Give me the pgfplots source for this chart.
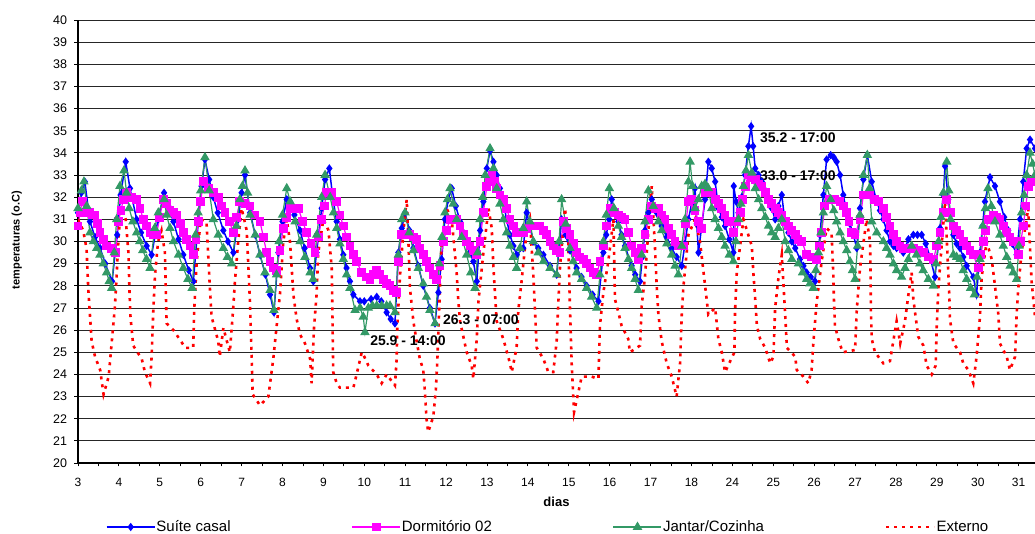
\documentclass[border=0pt]{standalone}
\usepackage{fontspec}
\setmainfont{Liberation Sans}
\usepackage{pgfplots}
\pgfplotsset{compat=1.18}
\definecolor{suite}{RGB}{0,0,255}
\definecolor{dorm}{RGB}{255,0,255}
\definecolor{jantar}{RGB}{51,153,102}
\definecolor{externo}{RGB}{255,0,0}

\begin{document}
\begin{tikzpicture}
\useasboundingbox (-78pt,-71pt) rectangle (957pt,463pt);
\begin{axis}[
  at={(0pt,0pt)}, anchor=south west,
  scale only axis, width=957pt, height=443pt,
  xmin=0, xmax=561.6, ymin=20, ymax=40,
  axis x line*=bottom, axis y line*=left,
  axis line style={black, line width=1.2pt},
  ytick={20,21,...,40},
  xtick={0,24,...,552},
  xticklabels={3,4,5,6,7,8,9,10,11,12,13,14,15,16,17,18,24,25,26,27,28,29,30,31},
  minor xtick={12,36,...,564},
  tick align=outside,
  major tick length=3.5pt, minor tick length=3.5pt,
  tick style={black, line width=0.8pt},
  ymajorgrids, grid style={black!85, line width=0.8pt},
  /pgf/number format/assume math mode=true,
  yticklabel style={font=\fontsize{12.5}{14}\selectfont, xshift=-4pt},
  xticklabel style={font=\fontsize{12}{13}\selectfont, yshift=-8pt},
  xlabel={dias},
  every axis x label/.style={at={(axis description cs:0.5,0)}, anchor=center, yshift=-39pt, font=\bfseries\fontsize{13}{15}\selectfont},
  ylabel={temperaturas (o.C)},
  every axis y label/.style={at={(axis description cs:-0.064,0.503)}, anchor=center, rotate=90, font=\bfseries\fontsize{11}{12}\selectfont},
  legend style={draw=none, fill=none, at={(axis description cs:0.029,-0.1445)}, anchor=west,
    legend columns=4, inner xsep=0pt, font=\fontsize{15}{17}\selectfont,
    /tikz/every even column/.append style={column sep=120pt}, nodes={inner xsep=1pt}},
  legend cell align=left,
  legend image code/.code={\draw[mark repeat=2,mark phase=2] plot coordinates {(0pt,0pt) (24pt,0pt) (48pt,0pt)};},
]
% Suite casal
\addplot[suite, line width=1.5pt, mark=diamond*, mark size=3pt, mark options={solid, fill=suite, draw=suite}] coordinates {
(0,31.3) (2,32.2) (4,32.7) (7,30.9) (10,30.2) (13,29.7) (16,29.0) (20,28.2) (23,30.3) (25,32.1) (28,33.6) (30.5,32.4) (34.4,31.0) (37,30.4) (40.3,29.8) (43.2,29.4) (47,31.0) (50.5,32.2) (53,31.6) (56,30.9) (59,30.1) (61.8,29.4) (65,28.7) (67.7,28.2) (70.6,30.9) (72.5,32.5) (74.5,33.7) (77,32.8) (79.4,32.0) (82,31.3) (85.3,30.5) (88,30.0) (91.2,29.5) (94,31.0) (96,32.2) (98,33.0) (101,31.3) (104,30.3) (106.8,29.4) (110,28.5) (112.7,27.6) (115,26.8) (117.6,29.5) (120,30.9) (122.5,31.9) (124.4,31.8) (127,31.2) (130.3,30.5) (133,29.7) (136.2,28.8) (138.1,28.2)
(140,29.5) (143,31.5) (145,32.8) (147.5,33.3) (149.5,32.0) (151.8,30.9) (153.7,30.1) (155.7,29.4) (157.6,28.8) (159.6,28.2) (161.6,27.6) (165.5,27.3) (168,27.3) (172,27.4) (175.3,27.5) (178,27.3) (181.1,26.8) (183.5,26.5) (186,26.3) (188,29.5) (190,30.6) (191.9,31.3) (194.5,30.5) (196.8,29.7) (199.7,28.9) (202.6,28.0) (206.5,27.0) (209.5,26.3) (211.5,27.7) (213.4,29.2) (215.3,31.0) (217.3,31.9) (219.3,32.4) (221.7,31.6) (224.2,30.9) (226.2,30.4) (228.1,30.0) (230,29.5) (232,29.1) (234,28.2) (236,30.5) (237.9,31.8) (239.9,33.3) (241.8,34.1) (243.8,33.6) (245.7,33.0) (247.6,32.4) (249.6,31.8) (251.5,31.0) (253.5,30.3) (255.5,29.8) (257.4,29.4) (261.3,29.7) (263.3,31.3) (265.2,30.7) (267.2,30.0) (270.1,29.7) (273.1,29.4) (277,28.9) (280.9,28.5)
(283.8,31.0) (286.2,30.3) (288.7,29.6) (292.6,28.8) (295.5,28.4) (298.5,28.0) (302,27.6) (305.4,27.3) (308.3,29.5) (310,30.3) (311.8,31.0) (313.2,31.9) (315,31.4) (317.1,30.9) (319,30.3) (321,29.8) (324.9,28.9) (327,28.5) (329.8,28.2) (331.2,29.3) (332.7,30.5) (334.7,31.3) (336.7,31.9) (339.6,31.3) (342.5,30.7) (345.5,30.2) (348.4,29.7) (351.3,29.3) (354.3,28.9) (356.2,29.9) (358.2,31.0) (360.1,31.7) (362.1,32.4) (363.1,30.8) (364.1,29.5) (366,30.7) (368,31.9) (369.9,33.6) (371.9,33.3) (373.9,32.7) (375.8,31.5) (377.8,31.1) (379.7,30.7) (382.2,30.1) (384.6,29.5) (384.8,32.5) (386.2,31.8) (387.6,31.3) (389.5,32.0) (391.5,33.0) (393.4,34.3) (395,35.2) (396.2,34.3) (397.4,33.3) (399.4,33.0) (401.3,32.7) (403.3,32.3) (405.2,31.9) (407.1,31.5) (409.1,31.0) (411,31.6) (413,32.1) (415,30.8) (416.9,30.4) (418.9,30.0) (420.9,29.7)
(423.7,29.2) (425.7,28.9) (427.6,28.6) (430,28.4) (432.5,28.2) (435.4,30.3) (437.4,32.1) (439.3,33.7) (441.7,33.9) (443.5,33.8) (445.2,33.6) (447.2,33.0) (449.1,32.1) (451.1,31.3) (453,30.8) (455,30.3) (457,29.7) (458.9,31.5) (460.9,32.8) (463.2,33.9) (465.8,32.7) (468.7,31.8) (470.6,31.4) (472.6,31.0) (474.5,30.5) (476.5,30.0) (478.5,29.8) (480.4,29.7) (484.3,29.5) (487.3,30.1) (490.2,30.3) (492.6,30.3) (495.1,30.3) (497.5,29.9) (500,29.3) (502.9,28.4) (505.9,30.6) (507.8,32.1) (508.8,33.4) (510.7,31.9) (513.7,30.3) (515.6,29.9) (517.6,29.7) (519.5,29.3) (521.5,28.9) (525.4,28.4) (527.3,27.6) (529.3,29.5) (530.8,30.7) (532.2,31.8) (535.2,32.9) (538.1,32.5) (541,31.8) (543.5,31.1) (545.9,30.5) (548.3,29.9) (550.8,29.4) (552.8,31.0) (554.7,32.7) (556.7,34.2) (558.7,34.6) (561.6,34.2)
};
\addlegendentry{Suíte casal}
% Dormitorio 02
\addplot[dorm, line width=1.2pt, mark=square*, mark size=3.8pt, mark options={solid, fill=dorm, draw=dorm}] coordinates {
(0,30.7) (1.2,31.3) (2.5,31.8) (4,31.3) (5.5,31.3) (7,31.3) (8.5,31.2) (10,31.2) (11.5,30.8) (12.9,30.4) (14.9,30.1) (16.8,29.8) (19.8,29.7) (22,29.5) (23.7,30.9) (25.2,31.4) (26.6,31.9) (28.5,32.2) (31.5,32.0) (34.4,31.9) (36.4,31.5) (38.3,31.0) (40.3,30.7) (42.3,30.4) (44.2,30.3) (46,30.3) (48,31.1) (50,31.9) (52,31.7) (54,31.4) (56,31.3) (58,31.2) (60,30.8) (61.8,30.4) (63.8,30.1) (65.7,29.8) (67.7,29.4) (69.2,30.1) (70.6,30.9) (72,31.8) (73.5,32.7) (76.5,32.4) (79.4,32.2) (82.3,32.0) (84.3,31.6) (86.3,31.3) (88.8,30.9) (91.2,30.4) (93,31.1) (95,31.8) (98,31.7) (100.9,31.6) (103.9,31.2) (106.8,30.9) (108.8,30.2) (110.7,29.5) (112.7,29.1) (114.6,28.8) (116.5,28.7) (118.5,29.6) (120.5,30.6) (122.5,31.1) (124.4,31.5) (126.9,31.5) (129.3,31.5) (131.8,30.9) (134.2,30.4) (136.7,29.9) (139.1,29.5)
(141,30.2) (143,31.0) (144.5,31.6) (146,32.2) (149,32.2) (151.8,31.8) (153.7,31.2) (155.7,30.7) (157.6,30.2) (159.6,29.8) (161.6,29.4) (163.5,29.1) (166.5,28.6) (169,28.4) (171.4,28.3) (173.4,28.5) (175.3,28.7) (177.2,28.5) (179.2,28.3) (181.1,28.1) (183.1,28.0) (185,27.8) (187,27.7) (188,29.1) (190,30.3) (192.4,30.3) (194.8,30.3) (196.8,30.2) (198.7,30.1) (200.6,29.7) (202.6,29.4) (204.5,29.1) (206.5,28.8) (208.5,28.5) (210.4,28.3) (212.4,28.9) (214.3,30.0) (216.3,30.5) (218.3,31.0) (220.2,31.0) (222.2,31.0) (224.2,30.7) (226.1,30.3) (228,30.0) (230,29.8) (232,29.6) (234,29.4) (235.9,30.0) (237.9,31.3) (239.9,32.5) (241.5,32.8) (243,33.0) (244.4,32.7) (245.7,32.4) (247.6,32.1) (249.6,31.9) (251.5,31.5) (253.5,31.0) (255.5,30.7) (257.4,30.4) (259.4,30.4) (261.3,30.4) (263.3,30.6) (265.2,30.7) (268.1,30.7) (271.1,30.7) (273,30.5) (275,30.3) (277,30.0) (278.9,29.8) (280.9,29.6) (282.9,29.5)
(284.8,30.9) (286.8,30.6) (288.7,30.3) (290.6,29.9) (292.6,29.5) (294.5,29.3) (296.5,29.2) (298.5,29.0) (300.5,28.8) (302.4,28.6) (304.4,28.5) (306.3,29.1) (308.3,29.8) (310.3,30.7) (312.2,31.5) (314.6,31.3) (317.1,31.2) (319,31.1) (321,31.0) (322.9,30.4) (324.9,29.8) (326.9,29.5) (328.8,29.2) (330.8,29.7) (332.7,30.3) (334.7,31.0) (336.7,31.6) (338.6,31.5) (340.6,31.5) (342.5,31.2) (344.5,31.0) (346.4,30.6) (348.4,30.3) (350.3,30.0) (352.3,29.8) (355.2,29.8) (356.7,30.8) (358.2,31.8) (360.1,31.9) (362.1,31.4) (364.1,30.9) (366,30.6) (368,32.2) (370,32.2) (371.9,32.2) (373.9,31.9) (375.8,31.7) (377.8,31.5) (379.7,31.2) (381.7,30.9) (384.6,30.4) (386.6,30.9) (388.6,31.3) (390,31.9) (391.5,32.5) (393.4,33.0) (395.4,32.9) (397.4,32.8) (399.4,32.6) (401.3,32.5) (403.3,32.2) (405.2,31.9) (407.1,31.7) (409.1,31.5) (411,31.3) (413,31.2) (415,30.9) (416.9,30.7) (418.9,30.5) (420.9,30.3) (422.5,30.1)
(424.8,30.0) (427.6,29.4) (430.5,29.3) (433.4,29.2) (435,29.8) (436.4,30.4) (438.3,31.6) (441.2,31.9) (444.2,31.9) (447.2,31.8) (449.1,31.6) (451.1,31.3) (452.5,30.9) (454,30.4) (456,30.3) (458.9,31.0) (460.9,32.1) (462.8,32.1) (464.8,32.1) (467.2,31.9) (469.7,31.8) (472.6,31.5) (474.5,31.1) (476.5,30.7) (478.5,30.3) (480.4,30.0) (482.4,29.8) (484.3,29.7) (487.3,29.7) (490.2,29.7) (493.1,29.6) (496.1,29.5) (499,29.3) (502,29.2) (504,29.8) (505.9,30.4) (507.8,31.3) (509.8,31.9) (511.8,31.3) (513.7,30.7) (515.6,30.5) (517.6,30.3) (519.5,30.0) (521.5,29.8) (523.5,29.6) (525.4,29.4) (528.3,28.8) (529.8,29.4) (531.2,30.0) (532.7,30.5) (534.2,31.0) (537.1,31.2) (539,31.1) (541,31.0) (543,30.7) (544.9,30.4) (546.9,30.2) (548.8,30.0) (551.8,29.4) (553.3,30.0) (554.7,30.7) (556.2,31.6) (557.6,32.5) (559.6,32.7) (561.6,32.8)
};
\addlegendentry{Dormitório 02}
% Jantar/Cozinha
\addplot[jantar, line width=1.2pt, mark=triangle*, mark size=4.3pt, mark options={solid, fill=jantar, draw=jantar}] coordinates {
(0,31.5) (2,32.3) (3.5,32.7) (5.1,31.6) (7,30.4) (9,30.0) (11,29.7) (12.9,29.4) (14.8,29.0) (16.8,28.6) (18.3,28.2) (19.8,27.9) (21.3,29.5) (22.7,31.0) (24.6,32.5) (27,33.2) (28.5,32.2) (30,31.5) (32.2,30.9) (34.4,30.4) (36.2,30.0) (38,29.6) (40.2,29.2) (42.3,28.8) (45,30.6) (47.1,31.3) (50.5,31.9) (52,31.2) (54,30.6) (56,30.0) (59,29.4) (61.8,28.8) (64.5,28.3) (67,27.9) (69,30.3) (70.5,31.3) (72,32.3) (74.5,33.8) (77,32.3) (79.4,31.0) (82.3,30.3) (85.3,29.7) (87.7,29.3) (90.2,29.0) (93,30.7) (95,31.9) (96.5,32.5) (98,33.2) (99.5,32.2) (101,31.2) (104,30.3) (106.8,29.4) (109.7,28.6) (112.7,27.8) (115,26.9) (116.5,28.5) (118,30.0) (120,31.2) (122.5,32.4) (124.5,31.8) (127.4,30.9) (130.3,30.0) (133.2,29.3) (136.2,28.6) (138,28.3)
(140.1,30.3) (143,32.0) (145,33.0) (148,32.0) (149.9,31.3) (151.8,30.6) (153.7,29.9) (155.7,29.2) (157.6,28.5) (159.6,27.9) (162.6,26.9) (165.5,27.0) (167.4,26.6) (168.4,25.9) (170.4,27.0) (172.8,27.1) (175.3,27.1) (178.2,27.1) (181.1,27.1) (183.1,27.1) (186,26.8) (188,29.4) (190,31.0) (191.9,31.3) (194.3,30.4) (196.8,29.6) (199.7,28.8) (202.6,28.1) (204.5,27.5) (206.5,26.9) (209.5,26.3) (212,29.0) (213.6,30.2) (215.3,31.3) (216.8,31.9) (218.3,32.4) (220.2,31.7) (222.2,31.0) (225.2,30.2) (228.1,29.4) (230.5,28.6) (233,27.9) (234.5,29.5) (235.9,31.0) (237.5,32.0) (239,33.0) (241.8,34.2) (243.8,33.3) (245.7,32.4) (247.6,31.7) (249.6,31.0) (251.5,30.4) (253.5,29.8) (255.5,29.3) (257.4,28.8) (259.4,29.7) (261.3,30.6) (263.3,31.8) (265.2,30.9) (267.2,30.0) (270.1,29.5) (273.1,29.1) (277,28.8) (280.9,28.5)
(282.3,30.0) (283.8,31.9) (286.2,30.8) (288.7,29.7) (290.6,29.1) (292.6,28.6) (295.5,28.3) (298.5,27.9) (301.4,27.5) (304.4,27.0) (306.3,28.5) (308.3,30.0) (310,31.2) (311.8,32.4) (314.5,31.5) (317.1,30.7) (319,30.2) (321,29.7) (323,29.2) (324.9,28.8) (326.9,28.3) (328.8,27.8) (330.8,29.4) (332.7,30.9) (334.7,32.3) (337.6,31.6) (340.6,30.9) (342.5,30.5) (345.5,29.9) (348.4,29.4) (350.4,28.9) (352.3,28.5) (354.3,29.8) (356.2,31.0) (358.2,32.7) (359.2,33.6) (360.6,32.5) (362.1,31.5) (364.1,31.9) (366,32.5) (368,32.6) (369.9,32.4) (371.9,31.5) (373.9,31.0) (375.8,30.6) (377.8,30.2) (379.7,29.8) (382.2,29.4) (384.6,29.1) (386.1,30.0) (387.6,31.0) (389,31.7) (390.5,32.5) (392,33.2) (393.4,33.9) (395.4,33.1) (397.4,32.4) (399.4,31.9) (401.3,31.5) (403.3,31.1) (405.2,30.7) (407.1,30.4) (409.1,30.2) (411,30.6) (413,31.0) (415,30.0) (416.9,29.6) (418.9,29.2)
(422.8,29.0) (425.2,28.6) (427.6,28.3) (429.5,28.1) (431.5,27.9) (433,28.7) (434.5,29.5) (436,30.4) (437.4,31.3) (439.3,32.5) (441.7,31.9) (443.5,31.4) (445.2,30.9) (447.2,30.4) (449.1,30.0) (451.1,29.6) (453,29.1) (454.5,28.7) (456,28.3) (457.5,29.8) (458.9,31.2) (460.9,33.0) (463.2,33.9) (464.5,32.4) (465.8,30.9) (468.7,30.4) (472.6,30.0) (474.5,29.7) (476.5,29.4) (478.5,29.0) (480.4,28.7) (483.3,28.4) (485.3,28.8) (487.3,29.2) (489.2,29.8) (492,29.4) (494,29.0) (496,28.7) (499,28.3) (502,28.0) (503.5,29.0) (505,30.0) (506.4,31.1) (507.8,32.2) (509.8,33.6) (511,32.3) (512,31.0) (513.7,29.4) (515.6,29.3) (517.6,29.2) (519.5,28.7) (521.5,28.3) (523.8,27.9) (526,27.6) (527.6,28.4) (529.3,29.2) (531,30.7) (532.5,31.5) (534,32.4) (536,31.6) (538.1,30.9) (541,30.3) (543,29.8) (545,29.3) (547,28.9) (548.8,28.6) (550.8,28.3) (552.2,29.8) (553.7,31.3) (555.2,32.1) (556.7,33.0) (558.7,34.0) (560.2,33.5) (561.6,33.0)
};
\addlegendentry{Jantar/Cozinha}
% Externo
\addplot[externo, line width=2.6pt, dash pattern=on 3pt off 5pt] coordinates {
(0,31.0) (3,30.5) (5,29.7) (6,27.9) (7,26.7) (8,25.5) (10,24.8) (13,24.2) (15,23.1) (18,23.9) (19.5,25.2) (21.6,27.0) (22.5,28.2) (24,30.5) (26,31.5) (28,31.0) (29.6,29.5) (30.2,27.8) (30.8,26.6) (32.4,25.3) (37.4,24.7) (39.3,24.1) (42.3,23.6) (43.2,24.8) (44.2,26.9) (45.2,28.5) (47,30.0) (49,30.5) (51,29.5) (52,26.3) (56,26.0) (63,25.2) (67.6,25.2) (68.2,26.9) (69.6,29.0) (72,31.0) (75.4,30.9) (77.4,27.9) (78.4,26.6) (82.3,25.5) (83.2,24.8) (85.3,26.1) (89.1,25.0) (91.1,27.0) (92,28.1) (94,30.0) (96,31.5) (99,30.5) (100.9,27.3) (101.9,24.8) (102.5,23.1) (106.8,22.6) (111.7,23.0) (114.6,24.7) (116.6,26.2) (118.5,27.6) (120.5,30.0) (122.5,31.0) (124.4,30.0) (126.4,27.6) (128.3,26.5) (130.3,25.8) (133.2,25.4) (136.2,24.7) (137.1,23.6) (138.5,26.1)
(140,27.6) (141,29.5) (144,31.0) (147,30.5) (148.9,28.8) (149.3,26.7) (149.8,24.1) (151.8,23.6) (153.7,23.4) (161.6,23.4) (163.5,24.0) (166.5,25.0) (168,24.8) (170.4,24.4) (175.3,24.0) (178.2,23.6) (181.1,24.0) (186,23.5) (187,24.7) (187.4,26.2) (189,28.5) (191,30.5) (192.9,31.9) (193.9,30.0) (194.8,27.9) (196.8,26.4) (198.7,25.5) (200.6,24.7) (202.6,24.2) (203.6,23.2) (204.5,22.0) (205.5,21.4) (208.5,22.1) (210,23.3) (210.8,24.5) (212,27.0) (213.4,30.0) (216.3,31.5) (219.3,31.0) (222.2,28.6) (223.2,27.3) (224.2,26.4) (228.1,25.0) (231,24.4) (232,23.8) (234,25.6) (235,27.3) (237.9,29.5) (240.9,31.5) (242.8,30.6) (243.8,28.8) (245.7,26.4) (249.6,25.6) (253.5,24.5) (254.5,24.1) (257.4,25.2) (258.4,26.9) (260.3,28.2) (263.3,30.5) (265.2,31.0) (267.2,28.5) (269.2,25.2) (273.1,24.7) (276,24.1) (278.9,24.1)
(280.9,25.5) (281.9,27.3) (282.9,28.9) (285.8,31.5) (287.7,30.0) (288.7,27.0) (289.7,24.5) (290.7,22.9) (291.1,22.3) (295.6,23.9) (301.4,23.9) (305.4,23.8) (306.3,26.2) (308.3,27.7) (311.2,29.1) (314.2,31.0) (315.1,27.4) (317.1,26.8) (319,26.2) (322.9,25.6) (323.9,25.0) (329.8,25.3) (330.8,27.1) (332.7,28.4) (336.7,32.5) (338.6,29.7) (339.6,28.0) (340.6,26.7) (342.5,25.5) (345.5,24.5) (348.4,23.9) (351.3,23.0) (353.3,24.5) (354.3,26.7) (355.2,27.9) (358.2,30.3) (362.1,31.0) (365,30.0) (368,28.0) (368.9,27.4) (369.9,26.7) (373.9,27.0) (375.8,25.6) (377.8,25.0) (379.7,24.1) (385.2,25.0) (385.6,26.9) (386.6,28.6) (390.5,31.0) (395.4,29.8) (396.4,28.5) (397.4,27.4) (398.4,26.2) (400.3,25.6) (403.3,25.2) (406.2,24.5) (408.1,24.8) (409.1,27.0) (411.1,28.4) (413,29.4) (415,26.7) (416,25.2) (420.9,24.8) (421.8,24.2)
(425.7,23.9) (428.6,23.6) (430.5,24.2) (431.5,25.4) (433.4,27.2) (436.4,29.1) (439.3,30.6) (442.2,30.4) (443.2,28.6) (443.6,27.4) (444.2,26.2) (446.2,25.6) (448.7,25.0) (456,25.1) (457,26.9) (458.9,28.8) (462.8,31.0) (464.8,30.0) (465.1,28.6) (465.3,26.9) (465.8,25.6) (467.7,25.0) (472.6,24.5) (476.5,24.6) (480.4,26.4) (482.5,25.4) (485.3,26.4) (487.3,27.6) (489.2,28.6) (490.2,27.4) (491.2,26.8) (493.1,25.7) (496.1,25.3) (498,24.4) (501,24.0) (503.3,24.4) (503.9,26.1) (504.9,27.9) (506.8,29.8) (508.8,31.8) (511.3,27.6) (511.7,26.5) (513.7,25.4) (517.6,25.0) (519.5,24.5) (522.5,24.2) (525.4,23.6) (527.3,24.8) (529.3,26.6) (530.3,28.4) (533.2,30.0) (536.2,29.2) (538.1,28.0) (540.1,26.7) (541,25.4) (545,24.8) (546.9,24.2) (549.9,24.8) (550.8,26.7) (551.8,27.9) (553.7,29.5) (557.6,31.5) (559.6,28.2) (561.6,26.6)
};
\addlegendentry{Externo}
\node[anchor=west, inner sep=0pt, font=\bfseries\fontsize{14}{16}\selectfont] at (axis cs:400.2,34.69) {35.2 - 17:00};
\node[anchor=west, inner sep=0pt, font=\bfseries\fontsize{14}{16}\selectfont] at (axis cs:400.2,32.97) {33.0 - 17:00};
\node[anchor=west, inner sep=0pt, font=\bfseries\fontsize{14}{16}\selectfont] at (axis cs:171.4,25.5) {25.9 - 14:00};
\node[anchor=west, inner sep=0pt, font=\bfseries\fontsize{14}{16}\selectfont] at (axis cs:214.2,26.46) {26.3 - 07:00};
\end{axis}
\end{tikzpicture}
\end{document}
